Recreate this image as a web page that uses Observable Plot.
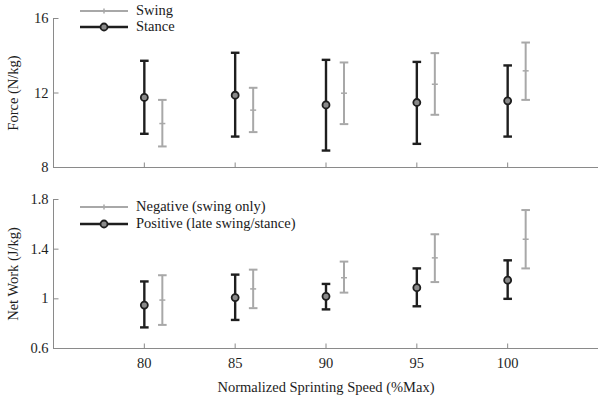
<!DOCTYPE html>
<html>
<head>
<meta charset="utf-8">
<script src="https://cdn.jsdelivr.net/npm/d3@7"></script>
<script src="https://cdn.jsdelivr.net/npm/@observablehq/plot@0.6"></script>
<style>
  html, body { margin: 0; padding: 0; background: #fff; }
  #chart { position: relative; width: 603px; height: 400px; font-family: "Liberation Serif", serif; }
  #chart svg { display: block; }
  .legend { position: absolute; font-family: "Liberation Serif", serif; font-size: 14.5px; color: #1a1a1a; }
  .legend .row { position: absolute; white-space: nowrap; height: 16px; line-height: 16px; }
  .legend .row svg { position: absolute; left: 0; top: 0; }
  .legend .row span { position: absolute; left: 56px; top: -1px; }
</style>
</head>
<body>
<div id="chart"></div>
<script>
// ---- data ----
const speeds = [80, 85, 90, 95, 100];
const speedTicks = [80, 85, 90, 95, 100];

const stanceForceMean = [11.76, 11.88, 11.36, 11.49, 11.58];
const stanceForceHi   = [13.73, 14.16, 13.78, 13.67, 13.48];
const stanceForceLo   = [9.81, 9.66, 8.91, 9.27, 9.66];
const swingForceMean  = [10.36, 11.08, 11.99, 12.47, 13.19];
const swingForceHi    = [11.63, 12.28, 13.64, 14.14, 14.71];
const swingForceLo    = [9.13, 9.90, 10.33, 10.83, 11.63];

const posWorkMean = [0.95, 1.01, 1.02, 1.09, 1.15];
const posWorkHi   = [1.14, 1.195, 1.12, 1.245, 1.31];
const posWorkLo   = [0.77, 0.83, 0.915, 0.94, 1.00];
const negWorkMean = [0.99, 1.08, 1.17, 1.33, 1.48];
const negWorkHi   = [1.19, 1.235, 1.30, 1.52, 1.715];
const negWorkLo   = [0.79, 0.925, 1.05, 1.135, 1.245];

const forceTicks = [8, 12, 16];
const forceTickLabels = ["8", "12", "16"];
const workTicks = [0.6, 1.0, 1.4, 1.8];
const workTickLabels = ["0.6", "1", "1.4", "1.8"];

const topLegend = ["Swing", "Stance"];
const bottomLegend = ["Negative (swing only)", "Positive (late swing/stance)"];

// ---- styles ----
const DARK = "#1e1e1e";
const LIGHT = "#a8a8a8";
const AXIS = "#8a8a8a";
const FONT = "Liberation Serif, serif";
const FS = 14.5;
const SWING_DX = 18;

const rows = (mean, lo, hi) => speeds.map((s, i) => ({speed: s, mean: mean[i], lo: lo[i], hi: hi[i]}));

const hline = {draw(ctx, size) { const r = Math.sqrt(size / Math.PI); ctx.moveTo(-r, 0); ctx.lineTo(r, 0); }};
const vtickUp = {draw(ctx, size) { const r = Math.sqrt(size / Math.PI); ctx.moveTo(0, 0); ctx.lineTo(0, -r); }};
const htickRight = {draw(ctx, size) { const r = Math.sqrt(size / Math.PI); ctx.moveTo(0, 0); ctx.lineTo(r, 0); }};

function errorMarks(data, color, width, dx, kind) {
  const marks = [
    Plot.ruleX(data, {x: "speed", y1: "lo", y2: "hi", stroke: color, strokeWidth: width, dx}),
    Plot.dot(data, {x: "speed", y: "hi", symbol: hline, r: 4.3, stroke: color, strokeWidth: width, dx}),
    Plot.dot(data, {x: "speed", y: "lo", symbol: hline, r: 4.3, stroke: color, strokeWidth: width, dx})
  ];
  if (kind === "circle") {
    marks.push(Plot.dot(data, {x: "speed", y: "mean", r: 3.5, stroke: color, strokeWidth: 1.8, fill: "#8a8a8a", dx}));
  } else {
    marks.push(Plot.dot(data, {x: "speed", y: "mean", symbol: hline, r: 3, stroke: color, strokeWidth: 1.5, dx}));
  }
  return marks;
}

function panel({height, marginTop, marginBottom, yDomain, yTicks, yLabels, yLabel, showX, stance, swing}) {
  return Plot.plot({
    width: 603,
    height,
    marginLeft: 53,
    marginRight: 5,
    marginTop,
    marginBottom,
    style: {fontFamily: FONT, fontSize: FS + "px", color: DARK, background: "white"},
    x: {domain: [75, 105]},
    y: {domain: yDomain},
    marks: [
      Plot.ruleY([yDomain[0]], {stroke: AXIS, strokeWidth: 1}),
      Plot.ruleX([75], {stroke: AXIS, strokeWidth: 1}),
      Plot.dot(speedTicks, {x: d => d, frameAnchor: "bottom", symbol: vtickUp, r: 5, stroke: AXIS, strokeWidth: 1}),
      Plot.dot(yTicks, {y: d => d, frameAnchor: "left", symbol: htickRight, r: 5, stroke: AXIS, strokeWidth: 1}),
      Plot.axisY(yTicks, {tickSize: 0, tickPadding: 5, tickFormat: (d, i) => yLabels[i], label: yLabel,
        labelAnchor: "center", labelArrow: "none", labelOffset: 46, fill: DARK, fontSize: FS}),
      showX
        ? Plot.axisX(speedTicks, {tickSize: 0, tickPadding: 9, label: "Normalized Sprinting Speed (%Max)",
            labelAnchor: "center", labelArrow: "none", labelOffset: 43, fill: DARK, fontSize: FS})
        : Plot.axisX([], {tickSize: 0, label: null}),
      ...errorMarks(swing, LIGHT, 2, SWING_DX, "tick"),
      ...errorMarks(stance, DARK, 2.4, 0, "circle")
    ]
  });
}

const chartEl = document.getElementById("chart");

const topPanel = panel({
  height: 185, marginTop: 18, marginBottom: 18,
  yDomain: [8, 16], yTicks: forceTicks, yLabels: forceTickLabels, yLabel: "Force (N/kg)", showX: false,
  stance: rows(stanceForceMean, stanceForceLo, stanceForceHi),
  swing: rows(swingForceMean, swingForceLo, swingForceHi)
});
const bottomPanel = panel({
  height: 215, marginTop: 14, marginBottom: 52,
  yDomain: [0.6, 1.8], yTicks: workTicks, yLabels: workTickLabels, yLabel: "Net Work (J/kg)", showX: true,
  stance: rows(posWorkMean, posWorkLo, posWorkHi),
  swing: rows(negWorkMean, negWorkLo, negWorkHi)
});
chartEl.appendChild(topPanel);
chartEl.appendChild(bottomPanel);

// legends (overlay)
function swatch(kind) {
  const color = kind === "circle" ? DARK : LIGHT;
  const w = kind === "circle" ? 2.4 : 2;
  const marker = kind === "circle"
    ? `<circle cx="24" cy="8" r="3.5" fill="#8a8a8a" stroke="${DARK}" stroke-width="1.8"/>`
    : `<line x1="24" y1="5.5" x2="24" y2="10.5" stroke="${color}" stroke-width="1.5"/>`;
  return `<svg width="50" height="16"><line x1="0" y1="8" x2="48" y2="8" stroke="${color}" stroke-width="${w}"/>${marker}</svg>`;
}
function addLegend(labels, left, topY, gap) {
  const div = document.createElement("div");
  div.className = "legend";
  div.style.left = left + "px";
  div.style.top = topY + "px";
  labels.forEach((lab, i) => {
    const r = document.createElement("div");
    r.className = "row";
    r.style.top = (i * gap) + "px";
    r.innerHTML = swatch(i === 0 ? "tick" : "circle") + `<span>${lab}</span>`;
    div.appendChild(r);
  });
  chartEl.appendChild(div);
}
addLegend(topLegend, 80, 3, 16);
addLegend(bottomLegend, 80, 199, 16.5);
</script>
</body>
</html>
